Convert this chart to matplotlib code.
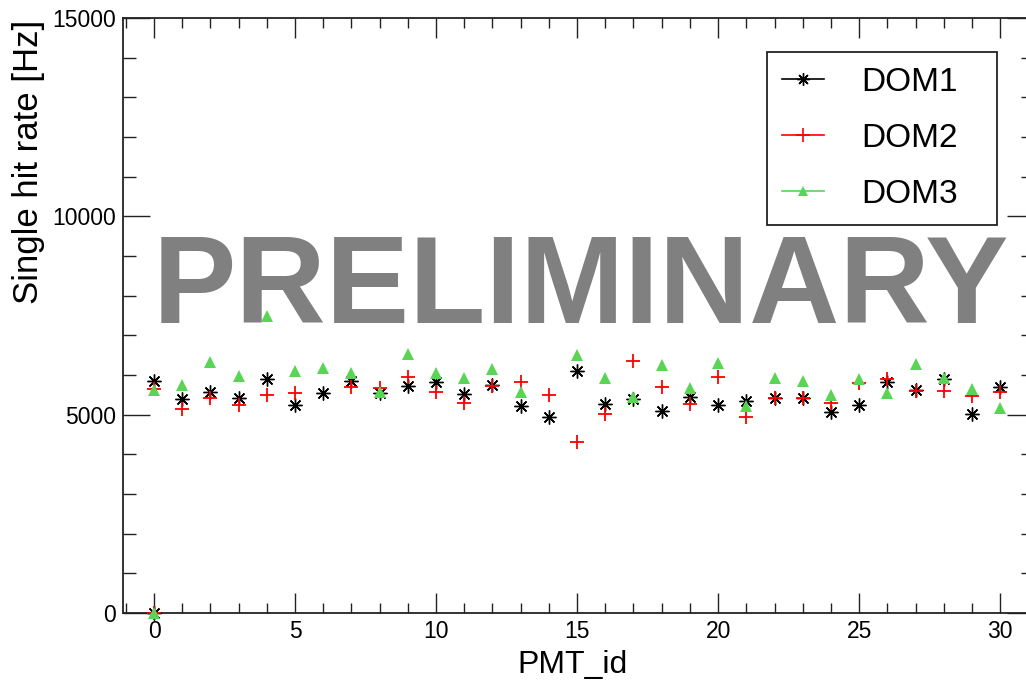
import numpy as np
import matplotlib
matplotlib.use("Agg")
import matplotlib.pyplot as plt
from matplotlib.lines import Line2D
from matplotlib.ticker import MultipleLocator

plt.rcParams['font.family'] = ['Liberation Sans', 'DejaVu Sans']

# ---- data ----
pmt_id = [0, 0, 1, 2, 3, 4, 5, 6, 7, 8, 9, 10, 11, 12, 13, 14, 15, 16, 17, 18, 19,
          20, 21, 22, 23, 24, 25, 26, 27, 28, 29, 30]
nan = np.nan
dom1 = [0, 5856, 5387, 5579, 5412, 5899, 5243, 5538, 5848, 5554, 5735, 5831, 5521, 5747,
        5218, 4933, 6109, 5268, 5387, 5092, 5453, 5243, 5352, 5412, 5412, 5075, 5243,
        5831, 5621, 5891, 5009, 5689]
dom2 = [0, 5639, 5142, 5412, 5243, 5495, 5538, nan, 5705, 5664, 5950, 5579, 5301, 5722,
        5831, 5495, 4319, 5017, 6361, 5705, 5268, 5941, 4933, 5412, 5412, 5286, 5790,
        5891, 5596, 5604, 5478, 5579]
dom3 = [0, 5621, 5747, 6335, 5974, 7487, 6109, 6184, 6058, 5579, 6521, 6058, 5932, 6142,
        5563, nan, 6503, 5916, 5437, 6251, 5676, 6294, 5218, 5916, 5856, 5495, 5891,
        5538, 6277, 5916, 5639, 5160]
series_names = ["DOM1", "DOM2", "DOM3"]

GREEN = "#59d454"
RED = "#ff0000"
BLACK = "#000000"

W, H = 1026, 690
fig = plt.figure(figsize=(W / 100, H / 100), dpi=100)
ax = fig.add_axes([123 / W, (H - 613) / H, (1034 - 123) / W, (613 - 18) / H])

ast = (8, 2, 0)
ax.plot(pmt_id, dom1, ls='none', marker=ast, ms=10, mew=1.0, color=BLACK, zorder=3, clip_on=False)
ax.plot(pmt_id, dom1, ls='none', marker='o', ms=2.8, mew=0, color=BLACK, zorder=3, clip_on=False)
ax.plot(pmt_id, dom2, ls='none', marker='+', ms=10.5, mew=1.3, color=RED, zorder=4, clip_on=False)
ax.plot(pmt_id, dom3, ls='none', marker='^', ms=8, mew=0, color=GREEN, zorder=5, clip_on=False)

ax.set_xlim(-1.1, 31.2)
ax.set_ylim(0, 15000)
ax.xaxis.set_major_locator(MultipleLocator(5))
ax.xaxis.set_minor_locator(MultipleLocator(1))
ax.yaxis.set_major_locator(MultipleLocator(5000))
ax.yaxis.set_minor_locator(MultipleLocator(1000))

ax.tick_params(axis='both', which='both', direction='in', top=True, right=True,
               colors='#222222', labelcolor='black', labelsize=16.5)
ax.tick_params(axis='x', which='major', length=14.4, width=1.0, pad=5)
ax.tick_params(axis='x', which='minor', length=7.2, width=1.0)
ax.tick_params(axis='y', which='major', length=19.4, width=1.0, pad=5)
ax.tick_params(axis='y', which='minor', length=9.7, width=1.0)
for s in ax.spines.values():
    s.set_linewidth(1.3)
    s.set_color('#222222')

ax.set_xlabel("PMT_id", fontsize=23)
ax.xaxis.set_label_coords(0.493, -0.062)
ax.set_ylabel("Single hit rate [Hz]", fontsize=25, loc='top')
ax.yaxis.set_label_coords(-0.0856, 0.997)

ax.text((581 - 123) / 911, (613 - 323) / 595, "PRELIMINARY", transform=ax.transAxes,
        ha='center', va='baseline', fontsize=90, fontweight='bold', color='#808080',
        zorder=1)

handles = [
    Line2D([], [], color=BLACK, lw=1.2, marker=ast, ms=9, mew=1.0),
    Line2D([], [], color=RED, lw=1.2, marker='+', ms=10, mew=1.2),
    Line2D([], [], color=GREEN, lw=1.2, marker='^', ms=7, mew=0),
]
leg = ax.legend(handles, series_names, loc='upper left',
                bbox_to_anchor=((767 - 123) / 911, (613 - 220) / 595, 230 / 911, 168 / 595),
                mode='expand', borderaxespad=0, fontsize=24, frameon=True, fancybox=False,
                framealpha=1, edgecolor='#222222', handlelength=1.25, handletextpad=1.12,
                labelspacing=0.75, borderpad=0.45)
leg.get_frame().set_linewidth(1.3)

fig.savefig("out.png", dpi=100)
